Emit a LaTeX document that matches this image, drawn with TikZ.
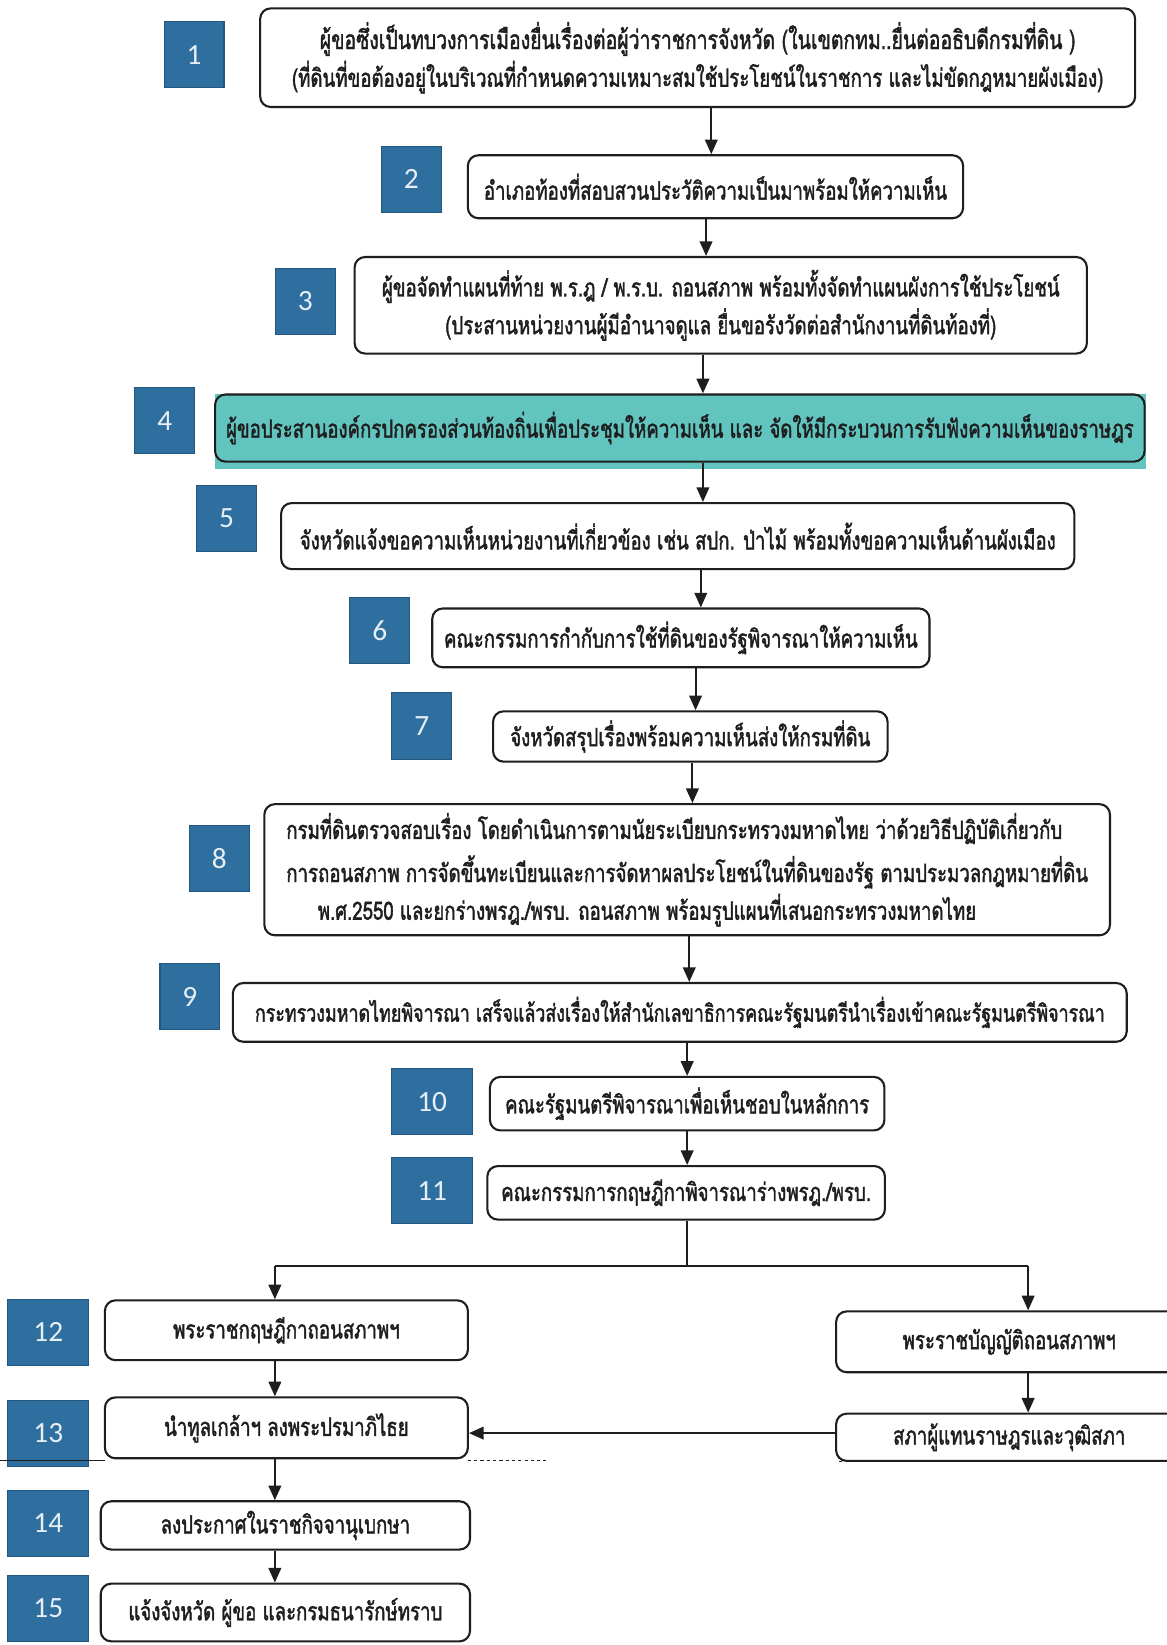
\documentclass[tikz,border=0pt]{standalone}
\usepackage{fontspec}
\newfontfamily\thaif[Script=Thai,FakeStretch=0.74,FakeBold=1.6]{Loma}
\newfontfamily\numf{Carlito}
\usetikzlibrary{arrows.meta}
\definecolor{sqblue}{HTML}{2F6FA0}
\definecolor{sqedge}{HTML}{24577F}
\definecolor{tealfill}{HTML}{62C4BF}
\definecolor{ink}{HTML}{1E1E1E}
\definecolor{numtxt}{HTML}{E6EEF6}
\newcommand\vlink[3]{\path (#3,0) coordinate (v#1#2); \draw[arr] (#1.south -| v#1#2) -- (#2.north -| v#1#2);}
\begin{document}
\begin{tikzpicture}[x=1pt,y=-1pt,
  box/.style={draw=ink, line width=2pt, rounded corners=10pt, font=\thaif\fontsize{24}{36}\selectfont, align=center, inner sep=0pt, text=ink},
  sq/.style={fill=sqblue, draw=sqedge, line width=1pt, text=numtxt, font=\numf\fontsize{28}{30}\selectfont, minimum height=63pt, inner sep=0pt},
  sqa/.style={sq, minimum width=57pt},
  sqb/.style={sq, minimum width=77pt},
  arr/.style={draw=ink, line width=2pt, -{Triangle[length=14pt,width=12pt]}},
  ln/.style={draw=ink, line width=2pt},
]
\fill[white] (0,0) rectangle (1112,1568);
\useasboundingbox (0,0) rectangle (1112,1568);

% teal highlight of step 4
\fill[tealfill] (205,376) rectangle (1092,447);

% boxes
\node[box, minimum width=834pt, minimum height=94pt] (b1) at (665,55) {\fontsize{25}{36}\selectfont ผู้ขอซึ่งเป็นทบวงการเมืองยื่นเรื่องต่อผู้ว่าราชการจังหวัด (ในเขตกทม..ยื่นต่ออธิบดีกรมที่ดิน )\\(ที่ดินที่ขอต้องอยู่ในบริเวณที่กำหนดความเหมาะสมใช้ประโยชน์ในราชการ และไม่ขัดกฎหมายผังเมือง)};
\node[box, minimum width=472pt, minimum height=60pt] (b2) at (682,178) {อำเภอท้องที่สอบสวนประวัติความเป็นมาพร้อมให้ความเห็น};
\node[box, minimum width=698pt, minimum height=92pt] (b3) at (687,291) {ผู้ขอจัดทำแผนที่ท้าย พ.ร.ฎ / พ.ร.บ. ถอนสภาพ พร้อมทั้งจัดทำแผนผังการใช้ประโยชน์\\(ประสานหน่วยงานผู้มีอำนาจดูแล ยื่นขอรังวัดต่อสำนักงานที่ดินท้องที่)};
\node[box, minimum width=886pt, minimum height=64pt] (b4) at (648,408) {ผู้ขอประสานองค์กรปกครองส่วนท้องถิ่นเพื่อประชุมให้ความเห็น และ จัดให้มีกระบวนการรับฟังความเห็นของราษฎร};
\node[box, minimum width=756pt, minimum height=63pt] (b5) at (646,511) {จังหวัดแจ้งขอความเห็นหน่วยงานที่เกี่ยวข้อง เช่น สปก. ป่าไม้ พร้อมทั้งขอความเห็นด้านผังเมือง};
\node[box, minimum width=474pt, minimum height=56pt] (b6) at (649,608) {คณะกรรมการกำกับการใช้ที่ดินของรัฐพิจารณาให้ความเห็น};
\node[box, minimum width=376pt, minimum height=48pt] (b7) at (658,702) {จังหวัดสรุปเรื่องพร้อมความเห็นส่งให้กรมที่ดิน};
\node[box, minimum width=806pt, minimum height=125pt, align=left] (b8) at (655,829) {กรมที่ดินตรวจสอบเรื่อง โดยดำเนินการตามนัยระเบียบกระทรวงมหาดไทย ว่าด้วยวิธีปฏิบัติเกี่ยวกับ\\[5pt]การถอนสภาพ การจัดขึ้นทะเบียนและการจัดหาผลประโยชน์ในที่ดินของรัฐ ตามประมวลกฎหมายที่ดิน\\\hspace*{30pt}พ.ศ.2550 และยกร่างพรฎ./พรบ. ถอนสภาพ พร้อมรูปแผนที่เสนอกระทรวงมหาดไทย};
\node[box, minimum width=852pt, minimum height=56pt] (b9) at (648,965) {\fontsize{23}{36}\selectfont กระทรวงมหาดไทยพิจารณา เสร็จแล้วส่งเรื่องให้สำนักเลขาธิการคณะรัฐมนตรีนำเรื่องเข้าคณะรัฐมนตรีพิจารณา};
\node[box, minimum width=376pt, minimum height=51pt] (b10) at (655,1052) {คณะรัฐมนตรีพิจารณาเพื่อเห็นชอบในหลักการ};
\node[box, minimum width=379pt, minimum height=51pt] (b11) at (654,1137) {คณะกรรมการกฤษฎีกาพิจารณาร่างพรฎ./พรบ.};
\node[box, minimum width=346pt, minimum height=57pt] (b12) at (273,1268) {พระราชกฤษฎีกาถอนสภาพฯ};
\node[box, minimum width=330pt, minimum height=58pt] (b12r) at (962,1279) {พระราชบัญญัติถอนสภาพฯ};
\node[box, minimum width=346pt, minimum height=58pt] (b13) at (273,1361) {นำทูลเกล้าฯ ลงพระปรมาภิไธย};
\node[box, minimum width=330pt, minimum height=45pt] (b13r) at (962,1370) {สภาผู้แทนราษฎรและวุฒิสภา};
\node[box, minimum width=352pt, minimum height=46pt] (b14) at (272,1454) {ลงประกาศในราชกิจจานุเบกษา};
\node[box, minimum width=352pt, minimum height=55pt] (b15) at (272,1537) {แจ้งจังหวัด ผู้ขอ และกรมธนารักษ์ทราบ};

% number squares
\node[sqa] (n1) at (185,52) {1};
\node[sqa] (n2) at (392,171) {2};
\node[sqa] (n3) at (291,287) {3};
\node[sqa] (n4) at (157,401) {4};
\node[sqa] (n5) at (216,494) {5};
\node[sqa] (n6) at (362,601) {6};
\node[sqa] (n7) at (402,692) {7};
\node[sqa] (n8) at (209,818) {8};
\node[sqa] (n9) at (181,950) {9};
\node[sqb] (n10) at (412,1050) {10};
\node[sqb] (n11) at (412,1135) {11};
\node[sqb] (n12) at (46,1270) {12};
\node[sqb] (n13) at (46,1366) {13};
\node[sqb] (n14) at (46,1452) {14};
\node[sqb] (n15) at (46,1533) {15};

% connectors
\vlink{b1}{b2}{678}
\vlink{b2}{b3}{673}
\vlink{b3}{b4}{670}
\vlink{b4}{b5}{670}
\vlink{b5}{b6}{668}
\vlink{b6}{b7}{663}
\vlink{b7}{b8}{660}
\vlink{b8}{b9}{657}
\vlink{b9}{b10}{655}
\vlink{b10}{b11}{655}
\coordinate (sp) at (655,1207);
\coordinate (spl) at (262,1207);
\coordinate (spr) at (980,1207);
\draw[ln] (b11.south -| sp) -- (sp);
\draw[ln] (spl) -- (spr);
\draw[arr] (spl) -- (b12.north -| spl);
\draw[arr] (spr) -- (b12r.north -| spr);
\vlink{b12}{b13}{262}
\vlink{b12r}{b13r}{980}
\coordinate (hz) at (0,1366);
\draw[arr] (b13r.west |- hz) -- (b13.east |- hz);
\vlink{b13}{b14}{262}
\vlink{b14}{b15}{262}

% fold line of the scan
\draw[ink, line width=1.5pt] (0,1392) -- (100,1392);
\draw[ink, line width=1.5pt, dashed] (446,1392) -- (520,1392);
\draw[ink, line width=1.5pt, dashed] (800,1393) -- (875,1393);
\end{tikzpicture}
\end{document}
